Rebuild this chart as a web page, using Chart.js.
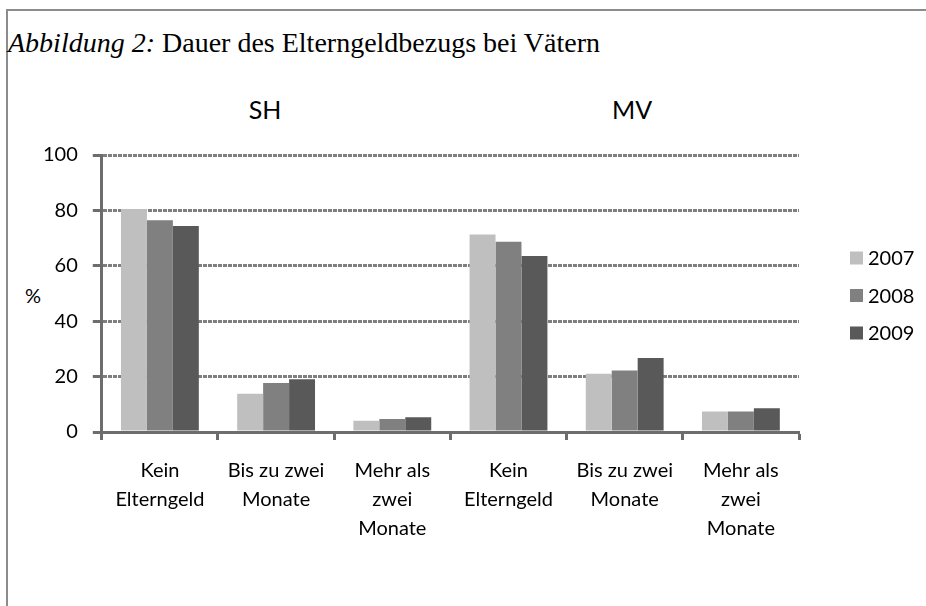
<!DOCTYPE html>
<html>
<head>
<meta charset="utf-8">
<script src="https://cdn.jsdelivr.net/npm/chart.js@4/dist/chart.umd.min.js"></script>
<style>
  body { margin: 0; background: #fff; }
  #wrap { position: relative; width: 926px; height: 606px; overflow: hidden; }
  #frame { position: absolute; left: 6px; top: 9px; right: -4px; bottom: -4px;
           border-top: 2px solid #8c8c8c; border-left: 2px solid #8c8c8c; }
  #titel { position: absolute; left: 8px; top: 27px; font-family: "Liberation Serif", serif;
           font-size: 28px; color: #000; white-space: nowrap; }
  .region { position: absolute; top: 94px; font-family: Lato, sans-serif; font-size: 25px;
            color: #000; transform: translateX(-50%); }
  #prozent { position: absolute; left: 25px; top: 283px; font-family: Lato, sans-serif;
             font-size: 20px; color: #000; }
  canvas { position: absolute; left: 0; top: 0; }
</style>
</head>
<body>
<div id="wrap">
  <div id="frame"></div>
  <div id="titel"><i>Abbildung 2:</i> Dauer des Elterngeldbezugs bei Vätern</div>
  <div class="region" style="left:265px">SH</div>
  <div class="region" style="left:632px">MV</div>
  <div id="prozent">%</div>
  <canvas id="elterngeldChart" width="926" height="606"></canvas>
</div>
<script>
// Kategorien (je Land: SH links, MV rechts)
const kategorien = [
  ['Kein', 'Elterngeld'], ['Bis zu zwei', 'Monate'], ['Mehr als', 'zwei', 'Monate'],
  ['Kein', 'Elterngeld'], ['Bis zu zwei', 'Monate'], ['Mehr als', 'zwei', 'Monate']
];
const jahre = ['2007', '2008', '2009'];
const farben = ['#bfbfbf', '#808080', '#595959'];

// Werte in %
const werte2007 = [80.5, 13.8, 4.1, 71.3, 21.0, 7.4];
const werte2008 = [76.4, 17.7, 4.7, 68.7, 22.2, 7.4];
const werte2009 = [74.4, 19.0, 5.3, 63.5, 26.7, 8.6];
const yTicks = [0, 20, 40, 60, 80, 100];

const achsenFarbe = '#6d6d6d';
const schrift = { family: 'Lato', size: 20 };

// Legende rechts neben dem Diagramm
const legendePlugin = {
  id: 'legendeRechts',
  afterDraw(chart) {
    const ctx = chart.ctx;
    const area = chart.chartArea;
    const x = area.right + 51;
    const abstand = 37.5;
    const mitte = (area.top + area.bottom) / 2 + 2;
    ctx.save();
    ctx.font = '20px Lato';
    ctx.textBaseline = 'middle';
    chart.data.datasets.forEach((ds, i) => {
      const y = mitte + (i - 1) * abstand;
      ctx.fillStyle = ds.backgroundColor;
      ctx.fillRect(x, y - 6.5, 13, 13);
      ctx.fillStyle = '#000';
      ctx.fillText(ds.label, x + 18, y + 1);
    });
    ctx.restore();
  }
};

const ctx = document.getElementById('elterngeldChart').getContext('2d');
const elterngeldChart = new Chart(ctx, {
  type: 'bar',
  data: {
    labels: kategorien,
    datasets: [
      { label: jahre[0], data: werte2007, backgroundColor: farben[0] },
      { label: jahre[1], data: werte2008, backgroundColor: farben[1] },
      { label: jahre[2], data: werte2009, backgroundColor: farben[2] }
    ]
  },
  options: {
    responsive: false,
    devicePixelRatio: 1,
    animation: false,
    categoryPercentage: 0.67,
    barPercentage: 1,
    layout: {
      padding: { left: 28, right: 127, top: 155, bottom: 47 }
    },
    scales: {
      y: {
        min: 0,
        max: 100,
        afterBuildTicks: axis => { axis.ticks = yTicks.map(v => ({ value: v })); },
        grid: {
          color: '#7f7f7f',
          lineWidth: 3,
          tickLength: 9,
          tickColor: achsenFarbe,
          tickWidth: 3,
          tickBorderDash: []
        },
        border: { color: achsenFarbe, width: 3, dash: [4, 1] },
        ticks: { font: schrift, color: '#000', padding: 15 }
      },
      x: {
        grid: {
          offset: true,
          drawOnChartArea: false,
          tickLength: 8,
          tickColor: achsenFarbe,
          tickWidth: 3
        },
        border: { color: achsenFarbe, width: 3 },
        ticks: {
          font: { family: 'Lato', size: 20, lineHeight: 1.45 },
          color: '#000',
          padding: 16,
          maxRotation: 0,
          autoSkip: false
        }
      }
    },
    plugins: {
      legend: { display: false },
      tooltip: { enabled: false }
    }
  },
  plugins: [legendePlugin]
});
</script>
</body>
</html>
